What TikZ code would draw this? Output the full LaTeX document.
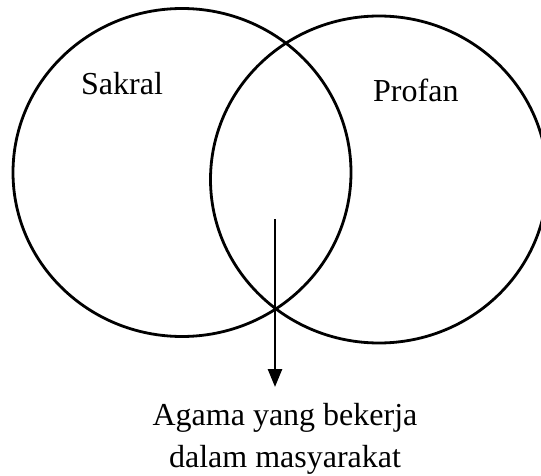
\documentclass[tikz,border=0pt]{standalone}
\usepackage{fontspec}
\setmainfont{Liberation Serif}
\usetikzlibrary{shapes.geometric,arrows.meta}
\begin{document}
\begin{tikzpicture}[x=1pt,y=-1pt,
  setcircle/.style={draw, ellipse, line width=2.8pt, inner sep=0pt, outer sep=0pt},
  lbl/.style={font=\fontsize{32}{42}\selectfont, inner sep=0pt, align=center},
  arr/.style={line width=2.6pt, -{Triangle[length=18pt,width=14pt]}}]
\useasboundingbox (0,0) rectangle (541,476);
\node[setcircle, minimum width=338pt, minimum height=328pt] (sakralset) at (182,172.5) {};
\node[setcircle, minimum width=337pt, minimum height=327pt] (profanset) at (379,179.5) {};
\node[lbl, anchor=base west] (sakral) at (81,95) {Sakral};
\node[lbl, anchor=base west] (profan) at (373,102) {Profan};
\node[lbl, anchor=north] (agama) at (285,403) {Agama yang bekerja\\dalam masyarakat};
\coordinate (start) at (275,219);
\coordinate (tip) at (275,387);
\draw[arr] (start) -- (tip);
\end{tikzpicture}
\end{document}
